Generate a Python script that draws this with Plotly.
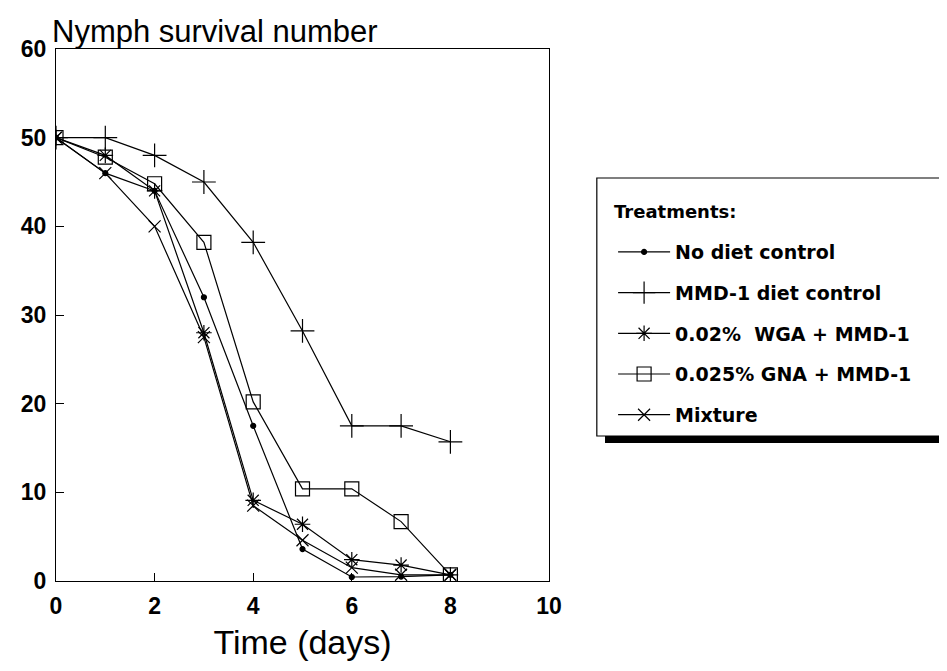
import plotly.graph_objects as go

# days after start
days = [0, 1, 2, 3, 4, 5, 6, 7, 8]

# nymphs alive per treatment
no_diet = [50, 46, 44, 32, 17.5, 3.6, 0.45, 0.5, 0.7]
mmd1_control = [50, 50, 48, 45, 38.2, 28.2, 17.5, 17.5, 15.7]
wga_mmd1 = [50, 48, 44, 28, 9.1, 6.4, 2.4, 1.8, 0.7]
gna_mmd1 = [50, 47.8, 44.8, 38.2, 20.2, 10.4, 10.4, 6.7, 0.7]
mixture = [50, 46, 40, 27.5, 8.5, 4.6, 1.5, 0.7, 0.7]

names = [
    "No diet control",
    "MMD-1 diet control",
    "0.02%  WGA + MMD-1",
    "0.025% GNA + MMD-1",
    "Mixture",
]
series = [no_diet, mmd1_control, wga_mmd1, gna_mmd1, mixture]
symbols = ["circle", "cross-thin-open", "asterisk-open", "square-open", "x-thin-open"]
sizes = [5, 17, 13, 14, 12]

fig = go.Figure()
for i, (name, vals) in enumerate(zip(names, series)):
    fig.add_trace(go.Scatter(
        x=days, y=vals, name=name, mode="lines+markers",
        legendgroup=str(i),
        line=dict(color="black", width=1.2),
        marker=dict(symbol=symbols[i], size=sizes[i], color="black",
                    line=dict(color="black", width=1.2)),
    ))

tick_font = dict(family="Liberation Sans", size=23, color="black", weight="bold")

# the page body adds an 8px margin, so the figure is 8px smaller than the window
fig.update_layout(
    width=939, height=663,
    margin=dict(l=48, r=398, t=41, b=90, autoexpand=False),
    plot_bgcolor="white", paper_bgcolor="white",
    font=dict(family="Liberation Sans", color="black"),
    xaxis=dict(
        range=[0, 10], tickvals=[0, 2, 4, 6, 8, 10], ticks="inside", ticklen=8,
        tickcolor="black", showline=True, linecolor="black", linewidth=1.2,
        mirror=True, showgrid=False, zeroline=False, tickfont=tick_font,
        ticklabelstandoff=4, automargin=False,
        title=dict(text="Time (days)", font=dict(size=34, color="black"), standoff=12),
    ),
    yaxis=dict(
        range=[0, 60], tickvals=[0, 10, 20, 30, 40, 50, 60], ticks="inside", ticklen=8,
        tickcolor="black", showline=True, linecolor="black", linewidth=1.2,
        mirror=True, showgrid=False, zeroline=False, tickfont=tick_font,
        ticklabelstandoff=4, automargin=False,
    ),
    legend=dict(
        x=1.13, y=0.654, xanchor="left", yanchor="top",
        bgcolor="rgba(0,0,0,0)", borderwidth=0,
        tracegroupgap=13, itemwidth=52,
        font=dict(family="DejaVu Sans", size=19, weight="bold", color="black"),
    ),
    showlegend=True,
)

# chart title in the top-left corner
fig.add_annotation(
    text="Nymph survival number", xref="paper", yref="paper",
    x=-0.012, y=1.0, xanchor="left", yanchor="bottom", yshift=-2,
    showarrow=False, font=dict(size=31, color="black"),
)

# legend heading
fig.add_annotation(
    text="Treatments:", xref="paper", yref="paper",
    x=1.128, y=0.694, xanchor="left", yanchor="middle", showarrow=False,
    font=dict(family="DejaVu Sans", size=18, weight="bold", color="black"),
)

# legend frame running off the right edge, with a heavy bottom shadow
fig.add_shape(type="rect", xref="paper", yref="paper",
              x0=1.097, x1=1.85, y0=0.2726, y1=0.7575,
              line=dict(color="black", width=1.2), fillcolor="rgba(0,0,0,0)")
fig.add_shape(type="rect", xref="paper", yref="paper",
              x0=1.1136, x1=1.85, y0=0.2594, y1=0.2726,
              line=dict(width=0), fillcolor="black")

fig.write_html("out.html")
